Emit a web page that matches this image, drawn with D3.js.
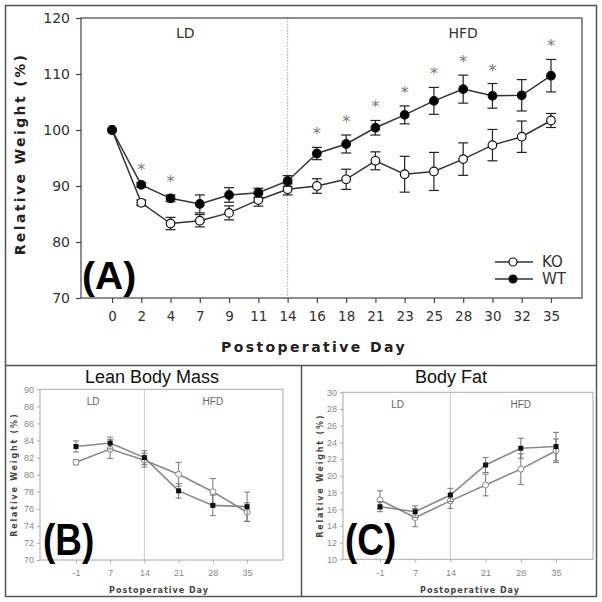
<!DOCTYPE html>
<html><head><meta charset="utf-8">
<script src="https://cdn.jsdelivr.net/npm/d3@7/dist/d3.min.js"></script>
<style>body{margin:0;background:#fff}svg{display:block}</style>
</head><body>
<script>
// ---- Panel A data ----
const daysA = ["0","2","4","7","9","11","14","16","18","21","23","25","28","30","32","35"];
const koA    = [100,87.0,83.3,83.8,85.2,87.5,89.4,90.0,91.2,94.5,92.1,92.6,94.8,97.3,98.8,101.7];
const koAErr = [0,0.5,1.1,1.1,1.25,1.1,1.0,1.3,1.8,1.6,3.2,3.4,2.9,2.8,2.8,1.25];
const wtA    = [100,90.2,87.8,86.8,88.4,88.8,90.9,95.8,97.5,100.4,102.7,105.2,107.3,106.1,106.2,109.7];
const wtAErr = [0,0.4,0.6,1.6,1.3,0.8,0.95,1.1,1.6,1.3,1.6,2.4,2.5,2.2,2.8,2.9];
const sigA   = ["2","4","16","18","21","23","25","28","30","35"];
const yTicksA = [70,80,90,100,110,120];
// ---- Panel B data (Lean Body Mass) ----
const daysBC = ["-1","7","14","21","28","35"];
const koB    = [81.45,83.0,81.7,80.05,78.0,75.6];
const koBErr = [0.3,1.1,0.8,1.4,1.55,1.1];
const wtB    = [83.3,83.7,82.0,78.1,76.4,76.25];
const wtBErr = [0.65,0.7,0.8,0.85,1.2,1.7];
const yTicksB = [70,72,74,76,78,80,82,84,86,88,90];
// ---- Panel C data (Body Fat) ----
const koC    = [17.1,15.0,17.0,18.9,20.8,23.0];
const koCErr = [1.1,1.1,0.9,1.3,1.85,1.4];
const wtC    = [16.3,15.7,17.7,21.3,23.3,23.5];
const wtCErr = [0.6,0.7,0.8,0.9,1.2,1.7];
const yTicksC = [10,12,14,16,18,20,22,24,26,28,30];

const svg = d3.select("body").append("svg").attr("width",602).attr("height",602);

// outer frames
const fr = svg.append("g").attr("fill","none").attr("stroke","#555").attr("stroke-width",1.5);
fr.append("rect").attr("x",5.5).attr("y",5.5).attr("width",591).attr("height",591);
fr.append("line").attr("x1",5.5).attr("x2",596.5).attr("y1",365.5).attr("y2",365.5);
fr.append("line").attr("x1",301.5).attr("x2",301.5).attr("y1",365.5).attr("y2",596.5);

// ================= Panel A =================
(function(){
  const L=81,R=582,T=18,B=298;
  const x = d3.scalePoint().domain(daysA).range([L,R]).padding(1.06);
  const y = d3.scaleLinear().domain([70,120]).range([B,T]);
  const g = svg.append("g");
  g.append("line").attr("x1",x("14")).attr("x2",x("14")).attr("y1",T).attr("y2",B)
    .attr("stroke","#aaa").attr("stroke-width",1).attr("stroke-dasharray","1.5,1.5");
  g.append("rect").attr("x",L).attr("y",T).attr("width",R-L).attr("height",B-T)
    .attr("fill","none").attr("stroke","#444").attr("stroke-width",1.2);
  const ya = g.append("g").attr("transform",`translate(${L},0)`)
    .call(d3.axisLeft(y).tickValues(yTicksA).tickSize(5).tickPadding(6));
  const xa = g.append("g").attr("transform",`translate(0,${B})`)
    .call(d3.axisBottom(x).tickSize(5).tickPadding(8));
  [ya,xa].forEach(a=>{a.select(".domain").remove();
    a.selectAll("line").attr("stroke","#444").attr("stroke-width",1.2);
    a.selectAll("text").attr("fill","#333").attr("font-family","DejaVu Sans").attr("font-size",14);});
  xa.selectAll("text").attr("font-size",13.5);

  g.append("text").attr("x",(x("4")+x("7"))/2).attr("y",33).attr("text-anchor","middle")
    .attr("dominant-baseline","central").attr("font-family","DejaVu Sans").attr("font-size",14).attr("fill","#333").text("LD");
  g.append("text").attr("x",x("28")).attr("y",33).attr("text-anchor","middle")
    .attr("dominant-baseline","central").attr("font-family","DejaVu Sans").attr("font-size",14).attr("fill","#333").text("HFD");

  const line = d3.line().x((d,i)=>x(daysA[i])).y(d=>y(d));
  function series(vals, errs, fill){
    const s = g.append("g");
    s.append("path").attr("d",line(vals)).attr("fill","none").attr("stroke","#333").attr("stroke-width",1.5);
    vals.forEach((v,i)=>{
      if(errs[i]>0){
        const cx=x(daysA[i]);
        s.append("line").attr("x1",cx).attr("x2",cx).attr("y1",y(v-errs[i])).attr("y2",y(v+errs[i])).attr("stroke","#222").attr("stroke-width",1.2);
        [v-errs[i],v+errs[i]].forEach(e=>s.append("line").attr("x1",cx-5).attr("x2",cx+5).attr("y1",y(e)).attr("y2",y(e)).attr("stroke","#222").attr("stroke-width",1.2));
      }
    });
    vals.forEach((v,i)=>s.append("circle").attr("cx",x(daysA[i])).attr("cy",y(v)).attr("r",4.3)
      .attr("fill",fill).attr("stroke","#111").attr("stroke-width",1.2));
  }
  series(koA,koAErr,"#fff");
  series(wtA,wtAErr,"#000");

  sigA.forEach(d=>{
    const i=daysA.indexOf(d);
    g.append("text").attr("x",x(d)).attr("y",y(wtA[i]+wtAErr[i])-16+8).attr("text-anchor","middle")
      .attr("font-family","DejaVu Sans").attr("font-size",16).attr("fill","#7a7a7a").text("*");
  });

  // legend
  const lg = g.append("g");
  [["KO","#fff",262],["WT","#000",279]].forEach(([t,f,ly])=>{
    lg.append("line").attr("x1",495).attr("x2",533).attr("y1",ly).attr("y2",ly).attr("stroke","#333").attr("stroke-width",1.3);
    lg.append("circle").attr("cx",513).attr("cy",ly).attr("r",4).attr("fill",f).attr("stroke","#111").attr("stroke-width",1.2);
    lg.append("text").attr("x",542).attr("y",ly).attr("dominant-baseline","central").attr("font-family","DejaVu Sans")
      .attr("font-size",15).attr("fill","#333").text(t);
  });

  g.append("text").attr("x",82).attr("y",289).attr("font-family","Liberation Sans").attr("font-weight","bold")
    .attr("font-size",39).attr("fill","#000").text("(A)");
  g.append("text").attr("x",314).attr("y",347).attr("text-anchor","middle").attr("dominant-baseline","central")
    .attr("font-family","DejaVu Sans").attr("font-weight","bold").attr("font-size",14).attr("letter-spacing",2.4)
    .attr("fill","#222").text("Postoperative Day");
  g.append("text").attr("transform","translate(20,154) rotate(-90)").attr("text-anchor","middle").attr("dominant-baseline","central")
    .attr("font-family","DejaVu Sans").attr("font-weight","bold").attr("font-size",14).attr("letter-spacing",2.4)
    .attr("fill","#222").text("Relative Weight (%)");
})();

// ================= Panels B & C =================
function small(opt){
  const {L,R,T,B,dom,ticks,ko,koErr,wt,wtErr,title,titleX,label,labelX,ytX,xtX} = opt;
  const x = d3.scalePoint().domain(daysBC).range([L,R]).padding(1.05);
  const y = d3.scaleLinear().domain(dom).range([B,T]);
  const g = svg.append("g");
  g.append("line").attr("x1",x("14")).attr("x2",x("14")).attr("y1",T).attr("y2",B).attr("stroke","#ccc").attr("stroke-width",1);
  g.append("rect").attr("x",L).attr("y",T).attr("width",R-L).attr("height",B-T).attr("fill","none").attr("stroke","#aaa").attr("stroke-width",1);
  const ya = g.append("g").attr("transform",`translate(${L},0)`).call(d3.axisLeft(y).tickValues(ticks).tickSize(3).tickPadding(3));
  const xa = g.append("g").attr("transform",`translate(0,${B})`).call(d3.axisBottom(x).tickSize(3).tickPadding(7));
  [ya,xa].forEach(a=>{a.select(".domain").remove();
    a.selectAll("line").attr("stroke","#aaa");
    a.selectAll("text").attr("fill","#888").attr("font-family","Liberation Sans").attr("font-size",9);});
  g.append("text").attr("x",(x("-1")+x("7"))/2).attr("y",T+12.5).attr("text-anchor","middle").attr("dominant-baseline","central")
    .attr("font-family","Liberation Sans").attr("font-size",10).attr("fill","#666").text("LD");
  g.append("text").attr("x",x("28")).attr("y",T+12.5).attr("text-anchor","middle").attr("dominant-baseline","central")
    .attr("font-family","Liberation Sans").attr("font-size",10).attr("fill","#666").text("HFD");
  const line = d3.line().x((d,i)=>x(daysBC[i])).y(d=>y(d));
  function series(vals,errs,filled){
    const s=g.append("g");
    s.append("path").attr("d",line(vals)).attr("fill","none").attr("stroke","#888").attr("stroke-width",1.6);
    vals.forEach((v,i)=>{
      const cx=x(daysBC[i]);
      s.append("line").attr("x1",cx).attr("x2",cx).attr("y1",y(v-errs[i])).attr("y2",y(v+errs[i])).attr("stroke","#777").attr("stroke-width",1);
      [v-errs[i],v+errs[i]].forEach(e=>s.append("line").attr("x1",cx-3).attr("x2",cx+3).attr("y1",y(e)).attr("y2",y(e)).attr("stroke","#777").attr("stroke-width",1));
    });
    vals.forEach((v,i)=>{
      const cx=x(daysBC[i]);
      if(filled) s.append("rect").attr("x",cx-2.5).attr("y",y(v)-2.5).attr("width",5).attr("height",5).attr("fill","#111");
      else s.append("circle").attr("cx",cx).attr("cy",y(v)).attr("r",3).attr("fill","#fff").attr("stroke","#888").attr("stroke-width",1);
    });
  }
  series(ko,koErr,false);
  series(wt,wtErr,true);
  g.append("text").attr("x",titleX).attr("y",377).attr("text-anchor","middle").attr("dominant-baseline","central")
    .attr("font-family","Liberation Sans").attr("font-size",18).attr("fill","#111").text(title);
  g.append("text").attr("transform",`translate(${labelX},555) scale(0.82,1)`).attr("font-family","Liberation Sans").attr("font-weight","bold")
    .attr("font-size",45).attr("fill","#000").text(label);
  g.append("text").attr("x",xtX).attr("y",590).attr("text-anchor","middle").attr("dominant-baseline","central")
    .attr("font-family","DejaVu Sans").attr("font-weight","bold").attr("font-size",8).attr("letter-spacing",1)
    .attr("fill","#444").text("Postoperative Day");
  g.append("text").attr("transform",`translate(${ytX},${(T+B)/2}) rotate(-90)`).attr("text-anchor","middle").attr("dominant-baseline","central")
    .attr("font-family","DejaVu Sans").attr("font-weight","bold").attr("font-size",8).attr("letter-spacing",1.8)
    .attr("fill","#444").text("Relative Weight (%)");
}
small({L:40,R:283,T:389.3,B:560,dom:[70,90],ticks:yTicksB,ko:koB,koErr:koBErr,wt:wtB,wtErr:wtBErr,
  title:"Lean Body Mass",titleX:152,label:"(B)",labelX:43,ytX:14,xtX:159});
small({L:343,R:593,T:392.3,B:559.3,dom:[10,30],ticks:yTicksC,ko:koC,koErr:koCErr,wt:wtC,wtErr:wtCErr,
  title:"Body Fat",titleX:451,label:"(C)",labelX:345,ytX:320,xtX:470});
</script>
</body></html>
